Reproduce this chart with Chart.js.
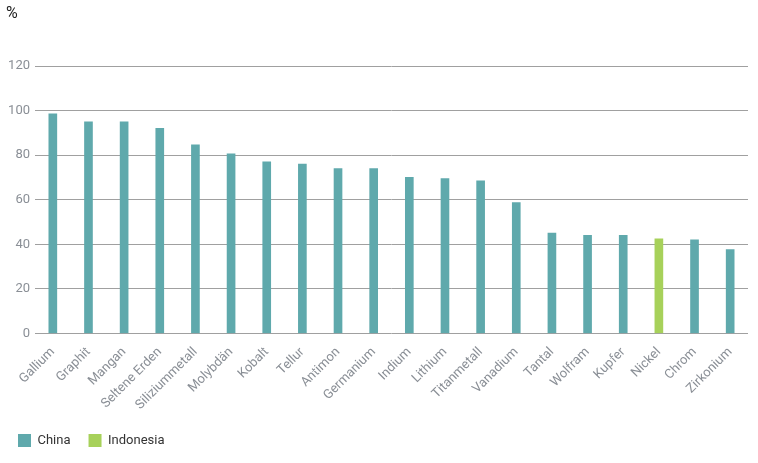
<!DOCTYPE html>
<html><head><meta charset="utf-8">
<script src="https://cdn.jsdelivr.net/npm/chart.js@4"></script>
<style>body{margin:0;background:#fff}#w{position:relative;width:758px;height:463px}</style>
</head><body><div id="w"><canvas id="c"></canvas></div>
<script>
const categories = ['Gallium','Graphit','Mangan','Seltene Erden','Siliziummetall','Molybdän','Kobalt','Tellur','Antimon','Germanium','Indium','Lithium','Titanmetall','Vanadium','Tantal','Wolfram','Kupfer','Nickel','Chrom','Zirkonium'];
const china = [98.5,95,95,92,84.6,80.6,77,76,74,74,70,69.5,68.5,58.7,45,44,44,null,42,37.6];
const indonesia = [null,null,null,null,null,null,null,null,null,null,null,null,null,null,null,null,null,42.5,null,null];
const yTicks = [0,20,40,60,80,100,120];

Chart.defaults.font.family = 'Roboto, sans-serif';
new Chart(document.getElementById('c'), {
  type: 'bar',
  data: {
    labels: categories,
    datasets: [
      {label: 'China', data: china, backgroundColor: '#5fa9ac', barThickness: 8},
      {label: 'Indonesia', data: indonesia, backgroundColor: '#a7d15a', barThickness: 8}
    ]
  },
  options: {
    responsive: true, maintainAspectRatio: false, animation: false,
    layout: {padding: {left: 0, right: 10, top: 66, bottom: 6}},
    scales: {
      x: {stacked: true, grid: {display: false}, border: {display: false},
          ticks: {color: '#8a8f96', font: {size: 13}, maxRotation: 45, minRotation: 45}},
      y: {stacked: true, min: 0, max: 120, afterBuildTicks: a => { a.ticks = yTicks.map(v => ({value: v})); },
          afterFit: a => { a.width = 35; },
          grid: {color: '#a0a0a0', drawTicks: false}, border: {display: false},
          ticks: {color: '#8a8f96', font: {size: 13}, padding: 5}}
    },
    plugins: {
      legend: {position: 'bottom', align: 'start',
        labels: {boxWidth: 13, boxHeight: 13, color: '#333', font: {size: 13}, padding: 18}},
      tooltip: {enabled: false}
    }
  },
  plugins: [{id: 'pct', afterDraw(ch) {
    const c = ch.ctx; c.save(); c.fillStyle = '#222'; c.font = '16px Roboto, sans-serif';
    c.textBaseline = 'top'; c.fillText('%', 6, 6); c.restore();
  }}]
});
</script></body></html>
